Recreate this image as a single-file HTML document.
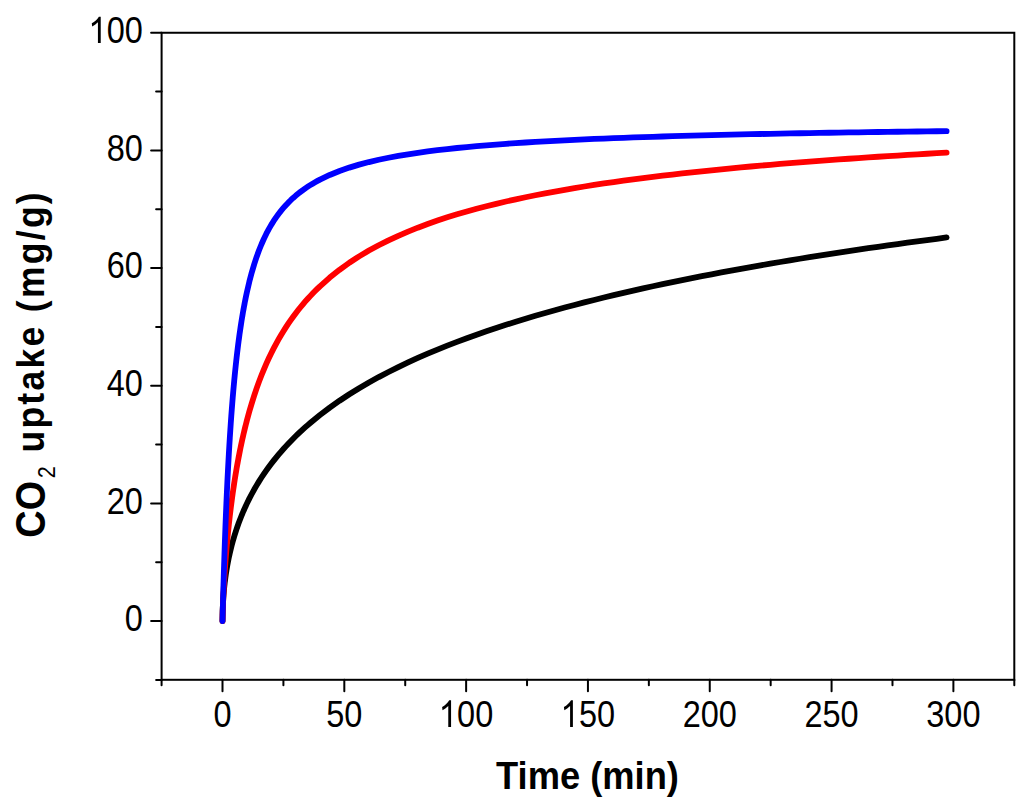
<!DOCTYPE html>
<html><head><meta charset="utf-8"><style>
html,body{margin:0;padding:0;background:#fff;overflow:hidden;}
svg{display:block;}
text{font-family:"Liberation Sans",sans-serif;}
</style></head><body>
<svg width="1024" height="809" viewBox="0 0 1024 809">
<rect width="1024" height="809" fill="#fff"/>
<g stroke="#000" stroke-width="2.0" fill="none" stroke-linecap="round">
<rect x="161.6" y="32.76" width="852.70" height="647.04" stroke-linecap="butt"/>
<line x1="156.10" y1="679.88" x2="161.60" y2="679.88"/><line x1="151.10" y1="621.05" x2="161.60" y2="621.05"/><line x1="156.10" y1="562.22" x2="161.60" y2="562.22"/><line x1="151.10" y1="503.39" x2="161.60" y2="503.39"/><line x1="156.10" y1="444.56" x2="161.60" y2="444.56"/><line x1="151.10" y1="385.73" x2="161.60" y2="385.73"/><line x1="156.10" y1="326.90" x2="161.60" y2="326.90"/><line x1="151.10" y1="268.08" x2="161.60" y2="268.08"/><line x1="156.10" y1="209.25" x2="161.60" y2="209.25"/><line x1="151.10" y1="150.42" x2="161.60" y2="150.42"/><line x1="156.10" y1="91.59" x2="161.60" y2="91.59"/><line x1="151.10" y1="32.76" x2="161.60" y2="32.76"/><line x1="161.59" y1="679.80" x2="161.59" y2="685.30"/><line x1="222.50" y1="679.80" x2="222.50" y2="691.30"/><line x1="283.41" y1="679.80" x2="283.41" y2="685.30"/><line x1="344.31" y1="679.80" x2="344.31" y2="691.30"/><line x1="405.22" y1="679.80" x2="405.22" y2="685.30"/><line x1="466.13" y1="679.80" x2="466.13" y2="691.30"/><line x1="527.04" y1="679.80" x2="527.04" y2="685.30"/><line x1="587.94" y1="679.80" x2="587.94" y2="691.30"/><line x1="648.85" y1="679.80" x2="648.85" y2="685.30"/><line x1="709.76" y1="679.80" x2="709.76" y2="691.30"/><line x1="770.67" y1="679.80" x2="770.67" y2="685.30"/><line x1="831.58" y1="679.80" x2="831.58" y2="691.30"/><line x1="892.48" y1="679.80" x2="892.48" y2="685.30"/><line x1="953.39" y1="679.80" x2="953.39" y2="691.30"/><line x1="1014.30" y1="679.80" x2="1014.30" y2="685.30"/>
</g>
<g fill="none" stroke-width="5.8" stroke-linecap="round" stroke-linejoin="round">
<path d="M222.50,621.05 L222.62,612.22 L222.74,608.46 L222.87,605.57 L222.99,603.14 L223.11,601.00 L223.23,599.07 L223.35,597.29 L223.47,595.65 L223.60,594.10 L223.72,592.65 L223.84,591.26 L223.96,589.94 L224.08,588.68 L224.21,587.47 L224.33,586.30 L224.45,585.18 L224.57,584.09 L224.69,583.03 L224.81,582.01 L224.94,581.01 L225.42,577.28 L225.91,573.86 L226.40,570.71 L226.89,567.77 L227.37,565.00 L227.86,562.38 L228.35,559.90 L228.83,557.53 L229.32,555.27 L229.81,553.09 L230.30,551.00 L230.78,548.98 L231.27,547.03 L231.76,545.14 L232.25,543.31 L232.73,541.53 L233.22,539.81 L233.71,538.13 L234.19,536.49 L234.68,534.89 L235.17,533.33 L235.66,531.81 L236.14,530.32 L236.63,528.87 L237.12,527.44 L237.61,526.04 L238.09,524.67 L238.58,523.33 L239.07,522.01 L239.55,520.72 L240.04,519.44 L240.53,518.19 L241.02,516.97 L241.50,515.76 L241.99,514.57 L242.48,513.40 L242.96,512.25 L243.45,511.11 L243.94,509.99 L244.43,508.89 L244.91,507.80 L245.40,506.73 L245.89,505.68 L246.38,504.63 L246.86,503.60 L249.30,498.65 L251.74,493.99 L254.17,489.57 L256.61,485.38 L259.04,481.38 L261.48,477.56 L263.92,473.91 L266.35,470.40 L268.79,467.02 L271.23,463.76 L273.66,460.62 L276.10,457.58 L278.53,454.64 L280.97,451.79 L283.41,449.03 L285.84,446.34 L288.28,443.73 L290.72,441.19 L293.15,438.71 L295.59,436.30 L298.03,433.95 L300.46,431.65 L302.90,429.41 L305.33,427.22 L307.77,425.07 L310.21,422.97 L312.64,420.92 L315.08,418.91 L317.52,416.94 L319.95,415.00 L329.74,407.60 L339.53,400.71 L349.32,394.26 L359.12,388.20 L368.91,382.49 L378.70,377.08 L388.49,371.95 L398.28,367.06 L408.07,362.41 L417.86,357.95 L427.65,353.68 L437.44,349.59 L447.23,345.65 L457.02,341.87 L466.82,338.22 L476.61,334.69 L486.40,331.29 L496.19,328.00 L505.98,324.81 L515.77,321.72 L525.56,318.72 L535.35,315.81 L545.14,312.98 L554.93,310.23 L564.72,307.56 L574.51,304.95 L584.31,302.42 L594.10,299.94 L603.89,297.53 L613.68,295.17 L623.47,292.87 L633.26,290.62 L643.05,288.43 L652.84,286.28 L662.63,284.18 L672.42,282.12 L682.21,280.11 L692.01,278.13 L701.80,276.20 L711.59,274.30 L721.38,272.44 L731.17,270.62 L740.96,268.83 L750.75,267.08 L760.54,265.35 L770.33,263.66 L780.12,262.00 L789.91,260.36 L799.71,258.75 L809.50,257.17 L819.29,255.62 L829.08,254.09 L838.87,252.59 L848.66,251.11 L858.45,249.65 L868.24,248.22 L878.03,246.81 L887.82,245.42 L897.61,244.05 L907.40,242.70 L917.20,241.37 L926.99,240.06 L936.78,238.77 L946.57,237.49" stroke="#000"/>
<path d="M222.50,621.05 L222.62,615.02 L222.74,610.99 L222.87,607.51 L222.99,604.36 L223.11,601.44 L223.23,598.69 L223.35,596.08 L223.47,593.59 L223.60,591.20 L223.72,588.90 L223.84,586.67 L223.96,584.52 L224.08,582.42 L224.21,580.39 L224.33,578.41 L224.45,576.47 L224.57,574.58 L224.69,572.74 L224.81,570.93 L224.94,569.16 L225.42,562.40 L225.91,556.11 L226.40,550.19 L226.89,544.60 L227.37,539.29 L227.86,534.24 L228.35,529.40 L228.83,524.77 L229.32,520.32 L229.81,516.04 L230.30,511.91 L230.78,507.92 L231.27,504.07 L231.76,500.34 L232.25,496.72 L232.73,493.21 L233.22,489.81 L233.71,486.49 L234.19,483.27 L234.68,480.13 L235.17,477.07 L235.66,474.09 L236.14,471.18 L236.63,468.34 L237.12,465.57 L237.61,462.86 L238.09,460.21 L238.58,457.62 L239.07,455.08 L239.55,452.60 L240.04,450.17 L240.53,447.79 L241.02,445.45 L241.50,443.16 L241.99,440.92 L242.48,438.71 L242.96,436.55 L243.45,434.43 L243.94,432.34 L244.43,430.29 L244.91,428.28 L245.40,426.30 L245.89,424.36 L246.38,422.45 L246.86,420.57 L249.30,411.61 L251.74,403.31 L254.17,395.59 L256.61,388.38 L259.04,381.63 L261.48,375.28 L263.92,369.30 L266.35,363.65 L268.79,358.29 L271.23,353.21 L273.66,348.38 L276.10,343.78 L278.53,339.40 L280.97,335.20 L283.41,331.19 L285.84,327.35 L288.28,323.66 L290.72,320.12 L293.15,316.72 L295.59,313.45 L298.03,310.29 L300.46,307.25 L302.90,304.32 L305.33,301.48 L307.77,298.74 L310.21,296.09 L312.64,293.53 L315.08,291.04 L317.52,288.63 L319.95,286.30 L329.74,277.57 L339.53,269.77 L349.32,262.75 L359.12,256.37 L368.91,250.56 L378.70,245.24 L388.49,240.33 L398.28,235.80 L408.07,231.59 L417.86,227.67 L427.65,224.01 L437.44,220.59 L447.23,217.37 L457.02,214.35 L466.82,211.49 L476.61,208.79 L486.40,206.24 L496.19,203.82 L505.98,201.52 L515.77,199.33 L525.56,197.24 L535.35,195.25 L545.14,193.35 L554.93,191.53 L564.72,189.79 L574.51,188.12 L584.31,186.51 L594.10,184.97 L603.89,183.49 L613.68,182.07 L623.47,180.70 L633.26,179.37 L643.05,178.09 L652.84,176.86 L662.63,175.67 L672.42,174.52 L682.21,173.40 L692.01,172.32 L701.80,171.28 L711.59,170.27 L721.38,169.28 L731.17,168.33 L740.96,167.40 L750.75,166.50 L760.54,165.63 L770.33,164.78 L780.12,163.95 L789.91,163.15 L799.71,162.36 L809.50,161.60 L819.29,160.86 L829.08,160.13 L838.87,159.43 L848.66,158.74 L858.45,158.06 L868.24,157.41 L878.03,156.76 L887.82,156.14 L897.61,155.52 L907.40,154.93 L917.20,154.34 L926.99,153.77 L936.78,153.21 L946.57,152.66" stroke="#f00"/>
<path d="M222.50,621.05 L222.62,616.27 L222.74,611.58 L222.87,606.98 L222.99,602.46 L223.11,598.03 L223.23,593.68 L223.35,589.41 L223.47,585.22 L223.60,581.10 L223.72,577.05 L223.84,573.07 L223.96,569.16 L224.08,565.32 L224.21,561.55 L224.33,557.84 L224.45,554.19 L224.57,550.60 L224.69,547.07 L224.81,543.60 L224.94,540.18 L225.42,527.06 L225.91,514.74 L226.40,503.14 L226.89,492.21 L227.37,481.90 L227.86,472.14 L228.35,462.90 L228.83,454.13 L229.32,445.80 L229.81,437.89 L230.30,430.35 L230.78,423.16 L231.27,416.30 L231.76,409.75 L232.25,403.48 L232.73,397.48 L233.22,391.74 L233.71,386.22 L234.19,380.93 L234.68,375.85 L235.17,370.96 L235.66,366.26 L236.14,361.73 L236.63,357.37 L237.12,353.17 L237.61,349.11 L238.09,345.19 L238.58,341.41 L239.07,337.75 L239.55,334.21 L240.04,330.79 L240.53,327.48 L241.02,324.27 L241.50,321.16 L241.99,318.14 L242.48,315.21 L242.96,312.37 L243.45,309.62 L243.94,306.94 L244.43,304.34 L244.91,301.81 L245.40,299.35 L245.89,296.95 L246.38,294.62 L246.86,292.35 L249.30,281.85 L251.74,272.58 L254.17,264.32 L256.61,256.93 L259.04,250.27 L261.48,244.23 L263.92,238.75 L266.35,233.73 L268.79,229.14 L271.23,224.90 L273.66,220.99 L276.10,217.37 L278.53,214.01 L280.97,210.88 L283.41,207.95 L285.84,205.21 L288.28,202.64 L290.72,200.23 L293.15,197.96 L295.59,195.82 L298.03,193.79 L300.46,191.88 L302.90,190.06 L305.33,188.34 L307.77,186.71 L310.21,185.15 L312.64,183.67 L315.08,182.25 L317.52,180.90 L319.95,179.61 L329.74,174.96 L339.53,171.00 L349.32,167.61 L359.12,164.65 L368.91,162.07 L378.70,159.78 L388.49,157.74 L398.28,155.92 L408.07,154.27 L417.86,152.78 L427.65,151.42 L437.44,150.19 L447.23,149.05 L457.02,148.00 L466.82,147.03 L476.61,146.14 L486.40,145.31 L496.19,144.53 L505.98,143.81 L515.77,143.13 L525.56,142.49 L535.35,141.89 L545.14,141.33 L554.93,140.80 L564.72,140.30 L574.51,139.82 L584.31,139.37 L594.10,138.95 L603.89,138.54 L613.68,138.16 L623.47,137.79 L633.26,137.44 L643.05,137.10 L652.84,136.78 L662.63,136.48 L672.42,136.18 L682.21,135.90 L692.01,135.63 L701.80,135.37 L711.59,135.13 L721.38,134.89 L731.17,134.66 L740.96,134.43 L750.75,134.22 L760.54,134.01 L770.33,133.82 L780.12,133.62 L789.91,133.44 L799.71,133.26 L809.50,133.08 L819.29,132.92 L829.08,132.75 L838.87,132.60 L848.66,132.44 L858.45,132.30 L868.24,132.15 L878.03,132.01 L887.82,131.88 L897.61,131.74 L907.40,131.62 L917.20,131.49 L926.99,131.37 L936.78,131.25 L946.57,131.14" stroke="#00f"/>
</g>
<g font-size="32.5" text-anchor="end" fill="#000"><text transform="translate(142.90,631.25) scale(1,1.12)">0</text><text transform="translate(142.90,513.59) scale(1,1.12)">20</text><text transform="translate(142.90,395.93) scale(1,1.12)">40</text><text transform="translate(142.90,278.28) scale(1,1.12)">60</text><text transform="translate(142.90,160.62) scale(1,1.12)">80</text><text transform="translate(142.90,42.96) scale(1,1.12)"> 00</text><path transform="translate(88.68,42.96) scale(1,1.12)" d="M 12.05,0 L 9.25,0 L 9.25,-18.5 C 7.8,-17.2 5.8,-15.9 3.5,-14.7 L 3.1,-17.5 C 6.0,-19.0 8.6,-21.2 10.2,-23.5 L 12.05,-23.5 Z"/></g>
<g font-size="32.5" text-anchor="middle" fill="#000"><text transform="translate(222.50,727.00) scale(1,1.14)">0</text><text transform="translate(344.31,727.00) scale(1,1.14)">50</text><text transform="translate(466.13,727.00) scale(1,1.14)"> 00</text><path transform="translate(439.02,727.00) scale(1,1.14)" d="M 12.05,0 L 9.25,0 L 9.25,-18.5 C 7.8,-17.2 5.8,-15.9 3.5,-14.7 L 3.1,-17.5 C 6.0,-19.0 8.6,-21.2 10.2,-23.5 L 12.05,-23.5 Z"/><text transform="translate(587.94,727.00) scale(1,1.14)"> 50</text><path transform="translate(560.84,727.00) scale(1,1.14)" d="M 12.05,0 L 9.25,0 L 9.25,-18.5 C 7.8,-17.2 5.8,-15.9 3.5,-14.7 L 3.1,-17.5 C 6.0,-19.0 8.6,-21.2 10.2,-23.5 L 12.05,-23.5 Z"/><text transform="translate(709.76,727.00) scale(1,1.14)">200</text><text transform="translate(831.58,727.00) scale(1,1.14)">250</text><text transform="translate(953.39,727.00) scale(1,1.14)">300</text></g>
<text transform="translate(587.5,789.2) scale(1,1.07)" font-size="36.3" font-weight="bold" text-anchor="middle">Time (min)</text>
<g font-weight="bold">
<text transform="translate(44.6,537.65) rotate(-90) scale(1,1.1)" font-size="37.85">CO</text>
<text transform="translate(55.0,478.2) rotate(-90) scale(1,1.12)" font-size="21.6" font-weight="normal">2</text>
<text transform="translate(44.3,452.6) rotate(-90) scale(1,1.09)" font-size="35.5" letter-spacing="2.3">uptake (mg/g)</text>
</g>
</svg>
</body></html>
